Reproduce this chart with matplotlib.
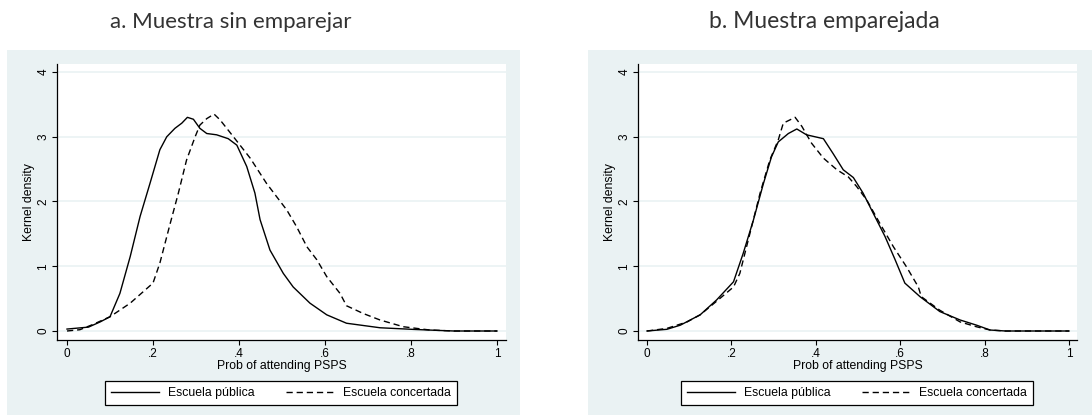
import numpy as np
import matplotlib
matplotlib.use('Agg')
import matplotlib.pyplot as plt

# panel a: unmatched sample
a_pub_x = [0.0, 0.05, 0.077, 0.10, 0.123, 0.147, 0.17, 0.193, 0.216, 0.232, 0.251, 0.267, 0.28,
           0.294, 0.309, 0.325, 0.348, 0.375, 0.395, 0.418, 0.437, 0.449, 0.472, 0.503, 0.526,
           0.565, 0.604, 0.65, 0.728, 0.805, 0.86, 0.9, 1.0]
a_pub_y = [0.03, 0.06, 0.14, 0.22, 0.58, 1.15, 1.77, 2.28, 2.80, 3.00, 3.13, 3.21, 3.30,
           3.27, 3.13, 3.05, 3.03, 2.97, 2.87, 2.54, 2.13, 1.72, 1.25, 0.89, 0.68,
           0.43, 0.25, 0.12, 0.05, 0.025, 0.01, 0.0, 0.0]
a_con_x = [0.0, 0.03, 0.06, 0.10, 0.147, 0.20, 0.216, 0.24, 0.259, 0.278, 0.298, 0.309, 0.325,
           0.342, 0.356, 0.387, 0.426, 0.464, 0.488, 0.511, 0.534, 0.558, 0.581, 0.604, 0.635,
           0.65, 0.689, 0.728, 0.782, 0.844, 0.9, 1.0]
a_con_y = [0.0, 0.02, 0.1, 0.22, 0.43, 0.74, 1.05, 1.66, 2.13, 2.64, 3.00, 3.18, 3.28,
           3.35, 3.26, 3.00, 2.67, 2.28, 2.07, 1.87, 1.61, 1.30, 1.10, 0.84, 0.58,
           0.39, 0.27, 0.17, 0.066, 0.015, 0.0, 0.0]

# panel b: matched sample
b_pub_x = [0.0, 0.047, 0.079, 0.126, 0.165, 0.205, 0.228, 0.252, 0.276, 0.295, 0.311, 0.335,
           0.355, 0.378, 0.398, 0.418, 0.441, 0.465, 0.489, 0.512, 0.536, 0.564, 0.588, 0.611,
           0.647, 0.694, 0.742, 0.781, 0.813, 0.85, 1.0]
b_pub_y = [0.0, 0.026, 0.09, 0.25, 0.48, 0.76, 1.20, 1.71, 2.28, 2.69, 2.92, 3.05,
           3.12, 3.03, 3.00, 2.97, 2.74, 2.49, 2.37, 2.13, 1.82, 1.46, 1.10, 0.74,
           0.53, 0.30, 0.17, 0.09, 0.015, 0.0, 0.0]
b_con_x = [0.0, 0.047, 0.095, 0.126, 0.165, 0.205, 0.22, 0.244, 0.268, 0.291, 0.311, 0.323,
           0.351, 0.367, 0.39, 0.418, 0.45, 0.477, 0.497, 0.521, 0.552, 0.584, 0.615, 0.643,
           0.65, 0.694, 0.742, 0.781, 0.813, 0.85, 1.0]
b_con_y = [0.0, 0.04, 0.14, 0.25, 0.46, 0.68, 0.89, 1.51, 2.13, 2.64, 2.95, 3.21,
           3.30, 3.16, 2.90, 2.67, 2.49, 2.38, 2.23, 2.02, 1.66, 1.30, 0.99, 0.68,
           0.53, 0.32, 0.14, 0.065, 0.015, 0.0, 0.0]

x_ticks = [0, 0.2, 0.4, 0.6, 0.8, 1.0]
x_labels = ['0', '.2', '.4', '.6', '.8', '1']
y_ticks = [0, 1, 2, 3, 4]
titles = ['a. Muestra sin emparejar', 'b. Muestra emparejada']
legend_labels = ['Escuela pública', 'Escuela concertada']

W, H = 1092, 416
BG = '#eaf2f3'

plt.rcParams['font.family'] = ['Liberation Sans', 'DejaVu Sans']

fig = plt.figure(figsize=(W / 100, H / 100), dpi=100)
fig.patch.set_facecolor('white')


def px_box(x0, y0, x1, y1):
    return [x0 / W, 1 - y1 / H, (x1 - x0) / W, (y1 - y0) / H]


panels = [
    dict(bg=(7, 50, 520, 415), ax=(57, 64, 506, 340), x0=67, x1=497, tx=231, leg=281,
         pub=(a_pub_x, a_pub_y), con=(a_con_x, a_con_y), tsize=16),
    dict(bg=(588, 50, 1092, 415), ax=(638, 64, 1077, 340), x0=647, x1=1069, tx=824, leg=857,
         pub=(b_pub_x, b_pub_y), con=(b_con_x, b_con_y), tsize=16.5),
]

for i, p in enumerate(panels):
    bx0, by0, bx1, by1 = p['bg']
    # light background behind each Stata graph
    bg_ax = fig.add_axes(px_box(bx0, by0, bx1, by1), zorder=-1)
    bg_ax.set_facecolor(BG)
    bg_ax.set_xticks([])
    bg_ax.set_yticks([])
    for s in bg_ax.spines.values():
        s.set_visible(False)

    ax = fig.add_axes(px_box(*p['ax']), zorder=1)
    ax.set_facecolor('white')

    ax_x0, ax_y0, ax_x1, ax_y1 = p['ax']
    unit = p['x1'] - p['x0']
    ax.set_xlim(-(p['x0'] - ax_x0) / unit, 1 + (ax_x1 - p['x1']) / unit)
    yunit = (331 - 72) / 4
    ax.set_ylim(-(ax_y1 - 331) / yunit, 4 + (72 - ax_y0) / yunit)

    ax.plot(*p['pub'], color='black', lw=1.0, label=legend_labels[0])
    l2, = ax.plot(*p['con'], color='black', lw=1.0, label=legend_labels[1])
    l2.set_dashes((4.5, 2.8))

    ax.set_xticks(x_ticks)
    ax.set_xticklabels(x_labels)
    ax.set_yticks(y_ticks)
    ax.set_yticklabels([str(v) for v in y_ticks], rotation=90, va='center')
    ax.tick_params(direction='out', length=3.5, width=0.8, labelsize=8.5, pad=2)
    ax.grid(axis='y', color=BG, lw=1.2)
    ax.set_axisbelow(True)
    for s in ['top', 'right']:
        ax.spines[s].set_visible(False)
    for s in ['left', 'bottom']:
        ax.spines[s].set_linewidth(0.9)

    ax.set_xlabel('Prob of attending PSPS', fontsize=8.8, labelpad=0)
    ax.set_ylabel('Kernel density', fontsize=8.8, labelpad=2)

    fig.text(p['tx'] / W, 1 - 22 / H, titles[i], ha='center', va='center', fontsize=p['tsize'],
             family=['Lato', 'DejaVu Sans'], color='#333333')

    leg = ax.legend(loc='center', bbox_to_anchor=(p['leg'] / W, 1 - 393 / H),
                    bbox_transform=fig.transFigure, ncol=2, fontsize=8.8, frameon=True,
                    fancybox=False, edgecolor='black', framealpha=1, handlelength=3.9,
                    columnspacing=2.5, handletextpad=0.8, borderpad=0.5, borderaxespad=0)
    leg.get_frame().set_linewidth(0.9)

fig.savefig('out.png', dpi=100)
